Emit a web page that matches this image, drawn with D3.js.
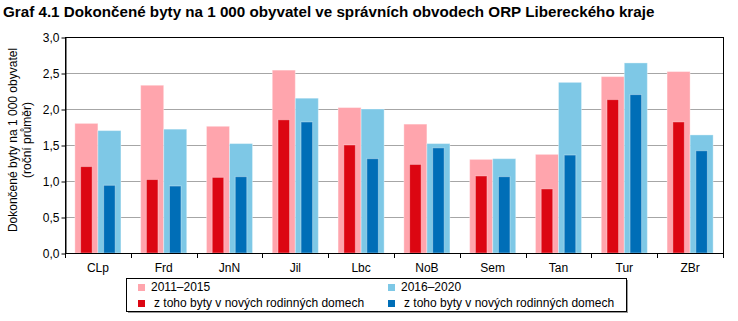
<!DOCTYPE html>
<html>
<head>
<meta charset="utf-8">
<script src="https://cdn.jsdelivr.net/npm/d3@7"></script>
<style>
  body { margin: 0; background: #fff; }
  svg { display: block; font-family: "Liberation Sans", Arial, sans-serif; }
</style>
</head>
<body>
<svg id="chart" width="738" height="321"></svg>
<script>
// ORP obvody Libereckého kraje
const categories = ["CLp", "Frd", "JnN", "Jil", "Lbc", "NoB", "Sem", "Tan", "Tur", "ZBr"];
const total1115 = [1.80, 2.33, 1.76, 2.54, 2.02, 1.79, 1.30, 1.37, 2.45, 2.52];
const total1620 = [1.70, 1.72, 1.52, 2.15, 2.00, 1.52, 1.31, 2.37, 2.64, 1.64];
const rd1115 = [1.20, 1.02, 1.05, 1.85, 1.50, 1.23, 1.07, 0.89, 2.13, 1.82];
const rd1620 = [0.94, 0.93, 1.06, 1.82, 1.31, 1.46, 1.06, 1.36, 2.20, 1.42];
const yTicks = [0, 0.5, 1, 1.5, 2, 2.5, 3];

const title = "Graf 4.1 Dokončené byty na 1 000 obyvatel ve správních obvodech ORP Libereckého kraje";
const yTitle = ["Dokončené byty na 1 000 obyvatel", "(roční průměr)"];

const col = {
  pink: "#ffa5ad", red: "#dc0612",
  lblue: "#7ec8e6", blue: "#006eb7"
};

const svg = d3.select("#chart");
const m = {left: 65, right: 723, top: 37, bottom: 253};

const x = d3.scaleBand().domain(categories).range([m.left, m.right])
  .paddingInner(0.3).paddingOuter(0.15);
const x1 = d3.scaleBand().domain(["a", "b"]).range([0, x.bandwidth()]);
const y = d3.scaleLinear().domain([0, 3]).range([m.bottom, m.top]);

svg.append("text")
  .attr("x", 3).attr("y", 17)
  .attr("font-size", 15.2).attr("font-weight", "bold")
  .text(title);

// grid
svg.append("g").selectAll("line")
  .data(yTicks.filter(d => d > 0 && d < 3))
  .join("line")
    .attr("x1", m.left).attr("x2", m.right)
    .attr("y1", d => Math.round(y(d)) + 0.5).attr("y2", d => Math.round(y(d)) + 0.5)
    .attr("stroke", "#a6a6a6").attr("stroke-width", 1);

// bars
const rows = categories.map((c, i) => ({c, i}));
const g = svg.append("g");

function bars(vals, key, color, inner) {
  const w = x1.bandwidth();
  const iw = inner ? w * 0.5 : w;
  g.selectAll(null)
    .data(rows)
    .join("rect")
      .attr("x", d => x(d.c) + x1(key) + (w - iw) / 2)
      .attr("width", iw)
      .attr("y", d => y(vals[d.i]))
      .attr("height", d => y(0) - y(vals[d.i]))
      .attr("fill", color)
      .attr("stroke", "#fff").attr("stroke-opacity", 0.35).attr("stroke-width", 1);
}
bars(total1115, "a", col.pink, false);
bars(total1620, "b", col.lblue, false);
bars(rd1115, "a", col.red, true);
bars(rd1620, "b", col.blue, true);

// frame
svg.append("rect")
  .attr("x", m.left + 0.5).attr("y", m.top + 0.5)
  .attr("width", m.right - m.left).attr("height", m.bottom - m.top)
  .attr("fill", "none").attr("stroke", "#000").attr("stroke-width", 1);

// y axis
const yAxis = svg.append("g")
  .attr("transform", `translate(${m.left + 0.5},0.5)`)
  .call(d3.axisLeft(y).tickValues(yTicks).tickSize(4).tickSizeOuter(0)
    .tickFormat(d => d3.format(".1f")(d).replace(".", ",")));
yAxis.select(".domain").attr("stroke", "#000");
yAxis.selectAll("text").attr("font-size", 12).attr("font-family", null).attr("fill", "#000").attr("x", -6);

// x axis: ticks at category boundaries
const bounds = categories.map(c => x(c) - x.step() * 0.15).concat([m.right]);
svg.append("g").selectAll("line")
  .data(bounds)
  .join("line")
    .attr("x1", d => Math.round(d) + 0.5).attr("x2", d => Math.round(d) + 0.5)
    .attr("y1", m.bottom).attr("y2", m.bottom + 5)
    .attr("stroke", "#000");
svg.append("g").selectAll("text")
  .data(categories)
  .join("text")
    .attr("x", d => x(d) + x.bandwidth() / 2)
    .attr("y", 272)
    .attr("text-anchor", "middle")
    .attr("font-size", 12)
    .text(d => d);

// y title
const yt = svg.append("text")
  .attr("transform", "translate(17,140) rotate(-90)")
  .attr("text-anchor", "middle").attr("font-size", 12);
yt.selectAll("tspan").data(yTitle).join("tspan")
  .attr("x", 0).attr("dy", (d, i) => i ? 14 : 0).text(d => d);

// legend
const lg = svg.append("g");
lg.append("rect").attr("x", 128).attr("y", 280).attr("width", 500).attr("height", 33).attr("fill", "#999");
lg.append("rect").attr("x", 126.5).attr("y", 278.5).attr("width", 500).attr("height", 33)
  .attr("fill", "#fff").attr("stroke", "#000");
const items = [
  {t: "2011–2015", c: col.pink, x: 138, y: 291, tx: 151},
  {t: "2016–2020", c: col.lblue, x: 388, y: 291, tx: 401},
  {t: "z toho byty v nových rodinných domech", c: col.red, x: 138, y: 307, tx: 154},
  {t: "z toho byty v nových rodinných domech", c: col.blue, x: 388, y: 307, tx: 404}
];
lg.selectAll("rect.sw").data(items).join("rect").attr("class", "sw")
  .attr("x", d => d.x).attr("y", d => d.y - 7).attr("width", 7).attr("height", 7).attr("fill", d => d.c);
lg.selectAll("text").data(items).join("text")
  .attr("x", d => d.tx).attr("y", d => d.y).attr("font-size", 12).text(d => d.t);
</script>
</body>
</html>
